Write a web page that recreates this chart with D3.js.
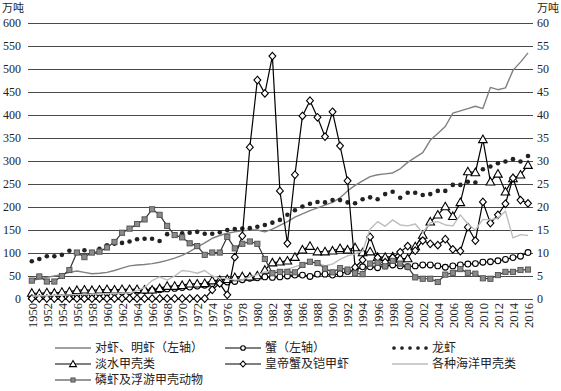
<!DOCTYPE html>
<html><head><meta charset="utf-8">
<script src="https://cdn.jsdelivr.net/npm/d3@7"></script>
<style>body{margin:0;background:#fff}</style>
</head><body><svg id="c" width="561" height="391"></svg>
<script>
const years = d3.range(1950, 2017);
// 对虾、明虾 (left axis, 万吨)
const shrimp = [40,44,47,50,53,58,61,58,55,56, 58,62,67,72,74,75,77,80,84,89,
  95,103,113,122,132,138,143,146,148,150, 150,146,152,160,168,178,185,192,198,204,
  210,220,235,247,257,266,270,272,274,283, 297,308,318,345,360,375,404,409,414,419,
  414,460,455,459,497,515,535];
// 蟹 (left axis)
const crab = [6,7,7,8,8,9,10,10,11,12, 13,14,15,16,17,18,19,20,22,23,
  25,26,28,30,33,35,37,38,42,45, 46,48,47,48,50,52,52,49,54,54,
  52,55,60,62,70,70,68,72,74,72, 70,72,74,74,72,69,72,74,76,77,
  80,81,83,86,90,93,101];
// 龙虾 (right axis)
const lobster = [8.2,8.7,9.3,9.3,9.6,10.5,10.1,10.6,10.2,10.9, 11.7,12.0,12.2,12.5,13.0,13.1,13.1,12.6,14.1,14.0,
  14.3,14.4,14.6,14.2,14.2,14.5,15.0,15.2,15.3,15.4, 15.7,16.1,16.6,17.2,18.3,19.3,20.1,20.7,21.1,21.0,
  21.5,21.5,21.0,20.8,21.7,22.1,21.7,22.8,23.3,22.0, 23.1,23.1,22.6,22.8,23.5,23.5,24.8,24.8,25.5,25.3,
  28.2,28.8,29.5,29.9,30.4,29.9,31.1];
// 淡水甲壳类 (right axis)
const freshwater = [1.3,1.2,1.4,1.3,1.5,1.6,1.9,2.0,1.9,2.0, 2.1,2.0,2.1,2.1,2.1,2.0,2.0,2.3,2.8,2.8,
  3.0,3.3,3.3,3.4,4.0,4.1,4.3,4.7,4.9,4.8, 5.1,6.3,7.9,8.1,8.3,9.1,10.7,11.5,10.3,10.3,
  10.5,11.0,10.7,11.2,10.1,10.3,9.1,9.1,9.2,8.8, 8.8,11.4,13.9,16.8,18.3,20.1,18.0,21.0,27.7,27.5,
  34.7,25.5,27.2,23.3,26.2,27.0,29.1];
// 皇帝蟹及铠甲虾 (right axis)
const kingCrab = [0.1,0.1,0.1,0.1,0.1,0.1,0.1,0.1,0.1,0.1, 0.1,0.1,0.1,0.1,0.1,0.1,0.1,0.1,0.1,0.1,
  0.1,0.1,0.1,0.1,2.0,3.4,0.9,9.1,13.7,33.0, 47.6,44.7,52.8,23.5,12.1,27.0,39.8,43.1,39.5,35.3,
  40.7,33.3,25.7,6.9,8.5,13.5,9.0,8.0,9.0,10.2, 11.5,10.5,12.7,12.0,11.7,13.0,10.8,10.4,15.6,12.7,
  21.1,16.5,18.3,20.7,26.3,21.5,20.8];
// 各种海洋甲壳类 (right axis)
const marine = [0.6,0.7,0.7,0.8,0.8,0.9,1.0,1.0,1.1,1.1, 1.2,1.2,1.3,1.3,1.8,2.5,4.0,4.8,4.1,5.0,
  6.2,6.0,5.6,6.2,5.0,4.6,4.4,4.1,4.2,4.8, 5.3,5.9,6.0,6.2,6.5,7.0,7.5,8.0,7.8,7.2,
  7.6,8.6,9.4,9.8,10.4,15.2,16.8,15.8,17.2,16.1, 15.9,16.3,14.4,16.6,16.8,16.1,15.9,18.3,16.3,15.0,
  17.3,17.2,17.6,19.1,13.3,14.0,13.8];
// 磷虾及浮游甲壳动物 (right axis)
const krill = [4.0,4.9,3.8,3.8,5.0,6.3,10.1,9.1,10.1,10.3, 11.2,12.4,14.4,15.3,16.3,17.3,19.5,18.3,15.9,13.9,
  13.4,12.1,11.5,9.6,10.1,10.1,13.5,11.0,12.0,12.5, 12.0,8.7,5.6,5.9,5.9,5.8,7.4,8.1,7.8,6.6,
  5.8,6.7,6.4,5.6,5.4,7.7,7.9,7.1,8.3,7.7, 7.0,4.7,4.4,4.4,3.7,5.3,5.7,6.5,5.7,5.5,
  4.5,4.4,5.2,5.9,5.9,6.3,6.4];
const seriesNames = ["对虾、明虾（左轴）","蟹（左轴）","龙虾","淡水甲壳类","皇帝蟹及铠甲虾","各种海洋甲壳类","磷虾及浮游甲壳动物"];
const leftTicks = d3.range(0, 601, 50);
const rightTicks = d3.range(0, 61, 5);
const yearLabels = years.filter(y => (y - 1950) % 2 === 0);
const unitLabel = "万吨";

const svg = d3.select("#c");
const x = d3.scalePoint().domain(years).range([31.8, 528]);
const yL = d3.scaleLinear().domain([0, 600]).range([299, 23]);
const yR = d3.scaleLinear().domain([0, 60]).range([299, 23]);
const numFont = "'Liberation Serif','Times New Roman',serif";
const cjkFont = "'Noto Sans CJK SC','Noto Sans',sans-serif";

// grid + left axis
const gL = svg.append("g").attr("transform", "translate(28,0)")
  .call(d3.axisLeft(yL).tickValues(leftTicks).tickSize(-505).tickPadding(7).tickFormat(d3.format("d")));
gL.select(".domain").remove();
gL.selectAll(".tick line").attr("stroke", "#4a4a4a").attr("stroke-width", 1);
gL.selectAll("text").attr("font-family", numFont).attr("font-size", 12).attr("fill", "#222");

const gR = svg.append("g").attr("transform", "translate(533,0)")
  .call(d3.axisRight(yR).tickValues(rightTicks).tickSize(0).tickPadding(4).tickFormat(d3.format("d")));
gR.select(".domain").remove();
gR.selectAll("text").attr("font-family", numFont).attr("font-size", 12).attr("fill", "#222");

const gX = svg.append("g").attr("transform", "translate(0,299)")
  .call(d3.axisBottom(x).tickValues(yearLabels).tickSize(0));
gX.select(".domain").remove();
gX.selectAll("text").attr("transform", "rotate(-90)").attr("x", -4).attr("y", 0).attr("dy", "0.35em")
  .attr("text-anchor", "end").attr("font-family", numFont).attr("font-size", 12.5).attr("fill", "#222");

svg.append("text").attr("x", 2).attr("y", 12).text(unitLabel).attr("font-family", cjkFont).attr("font-size", 11).attr("fill", "#222");
svg.append("text").attr("x", 537).attr("y", 12).text(unitLabel).attr("font-family", cjkFont).attr("font-size", 11).attr("fill", "#222");

// marker helpers
function marker(g, type, cx, cy, s) {
  s = s || 1;
  if (type === "circle") return g.append("circle").attr("cx", cx).attr("cy", cy).attr("r", 2.9 * s).attr("fill", "#fff").attr("stroke", "#000").attr("stroke-width", 1.1);
  if (type === "dot") return g.append("circle").attr("cx", cx).attr("cy", cy).attr("r", 2.3 * s).attr("fill", "#222");
  if (type === "triangle") { const h = 4.3 * s; return g.append("path").attr("d", `M${cx},${cy - h}L${cx + h},${cy + h * 0.75}L${cx - h},${cy + h * 0.75}Z`).attr("fill", "#fff").attr("stroke", "#000").attr("stroke-width", 1.1); }
  if (type === "diamond") { const h = 3.8 * s; return g.append("path").attr("d", `M${cx},${cy - h}L${cx + h * 0.9},${cy}L${cx},${cy + h}L${cx - h * 0.9},${cy}Z`).attr("fill", "#fff").attr("stroke", "#000").attr("stroke-width", 1.1); }
  if (type === "square") { const h = 2.6 * s; return g.append("rect").attr("x", cx - h).attr("y", cy - h).attr("width", 2 * h).attr("height", 2 * h).attr("fill", "#8a8a8a").attr("stroke", "#505050").attr("stroke-width", 0.9); }
}

const seriesData = [shrimp, crab, lobster, freshwater, kingCrab, marine, krill];
const styles = [
  { axis: yL, line: "#808080", w: 1.4, m: null },
  { axis: yL, line: "#000", w: 1.2, m: "circle" },
  { axis: yR, line: null, w: 0, m: "dot" },
  { axis: yR, line: "#000", w: 1.2, m: "triangle" },
  { axis: yR, line: "#000", w: 1.2, m: "diamond" },
  { axis: yR, line: "#bdbdbd", w: 1.4, m: null },
  { axis: yR, line: "#333", w: 1.2, m: "square" }
];

seriesData.forEach((vals, i) => {
  const st = styles[i];
  const g = svg.append("g");
  if (st.line) {
    g.append("path").datum(vals)
      .attr("d", d3.line().x((d, j) => x(years[j])).y(d => st.axis(d)))
      .attr("fill", "none").attr("stroke", st.line).attr("stroke-width", st.w).attr("stroke-linejoin", "round");
  }
  if (st.m) vals.forEach((d, j) => marker(g, st.m, x(years[j]), st.axis(d)));
});

// legend
const legendPos = [[55, 348], [225, 348], [392, 348], [55, 364], [225, 364], [392, 364], [55, 380]];
seriesNames.forEach((name, i) => {
  const st = styles[i];
  const [lx, ly] = legendPos[i];
  const g = svg.append("g");
  if (st.line) g.append("line").attr("x1", lx).attr("x2", lx + 36).attr("y1", ly).attr("y2", ly).attr("stroke", st.line).attr("stroke-width", st.w);
  if (st.m === "dot") { for (let k = 0; k < 5; k++) marker(g, "dot", lx + 2 + k * 8, ly, 0.8); }
  else if (st.m) marker(g, st.m, lx + 18, ly, 0.8);
  g.append("text").attr("x", lx + 40).attr("y", ly).attr("dy", "0.36em").text(name)
    .attr("font-family", cjkFont).attr("font-size", 12).attr("fill", "#222");
});
</script></body></html>
